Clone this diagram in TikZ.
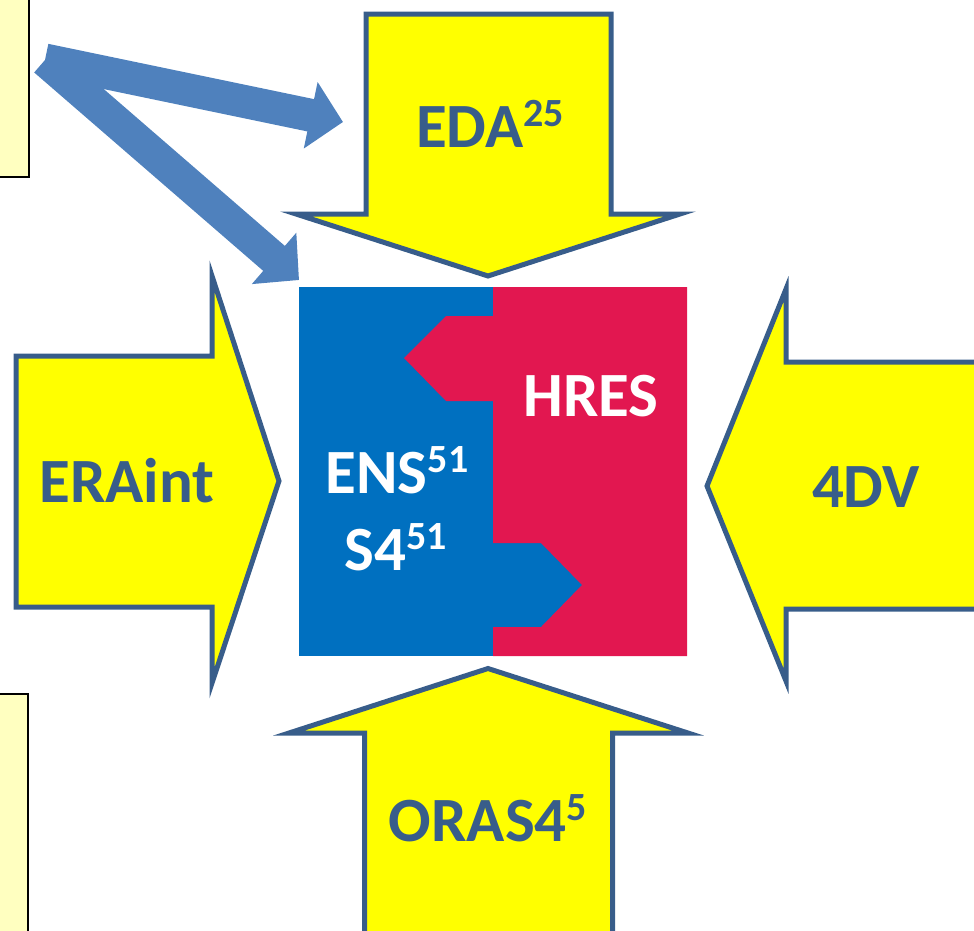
\documentclass[tikz,border=0pt]{standalone}
\usepackage{fontspec}
\setmainfont{Carlito}
\usetikzlibrary{arrows.meta, positioning, calc}
\definecolor{edgeblue}{RGB}{56,93,138}
\definecolor{ensblue}{RGB}{0,112,192}
\definecolor{hresred}{RGB}{226,23,80}
\definecolor{linkblue}{RGB}{79,129,189}
\definecolor{notefill}{RGB}{255,255,192}
\definecolor{arrowfill}{RGB}{255,255,0}
\newcommand{\sups}[1]{\raisebox{0.32em}{\fontsize{40}{40}\selectfont #1}}

\begin{document}
\begin{tikzpicture}[x=1pt, y=-1pt,
    bigarrow/.style={fill=arrowfill, draw=edgeblue, line width=5pt},
    notebox/.style={fill=notefill, draw=black, line width=2pt},
    link/.style={draw=linkblue, line width=33pt, -{Triangle[length=33pt, width=66pt]}},
    label/.style={text=edgeblue, font=\fontsize{63}{63}\selectfont\bfseries, inner sep=0pt, anchor=base},
    inlabel/.style={label, text=white}]
    \useasboundingbox (0,0) rectangle (974,930);
    \clip (0,0) rectangle (974,930);

    % Side notes (cut off at the left edge)
    \draw[notebox] (-10,-10) rectangle (29,177);
    \draw[notebox] (-10,694) rectangle (28,940);

    % Big yellow arrows pointing at the centre
    \draw[bigarrow] (366,14) -- (611,14) -- (611,214) -- (680,214) -- (488,276) -- (296,214) -- (366,214) -- cycle;
    \draw[bigarrow] (364.5,945) -- (364.5,733) -- (289,733) -- (488,668.5) -- (688,733) -- (612.5,733) -- (612.5,945) -- cycle;
    \draw[bigarrow] (16,356) -- (212,356) -- (212,276) -- (279,481) -- (212,683) -- (212,607) -- (16,607) -- cycle;
    \draw[bigarrow] (990,362) -- (786,362) -- (786,289) -- (707,486) -- (786,681) -- (786,609) -- (990,609) -- cycle;

    % Centre square: ENS/S4 and HRES halves
    \fill[ensblue] (299,287) rectangle (687,656);
    \fill[hresred] (493,287) -- (687,287) -- (687,656) -- (493,656) -- (493,627) -- (541,627) -- (582,585)
        -- (541,543) -- (493,543) -- (493,401) -- (446,401) -- (404,358) -- (446,316) -- (493,316) -- cycle;

    % Labels
    \node[label] (eda) at (490,147) {EDA\sups{25}};
    \node[label] (oras) at (488,841) {ORAS4\sups{5}};
    \node[label] (eraint) at (127,502) {ERAint};
    \node[label] (fourdv) at (866,507) {4DV};
    \node[inlabel] (hres) at (591,416) {HRES};
    \node[inlabel] (ens) at (397,493) {ENS\sups{51}};
    \node[inlabel] (sfour) at (396,570) {S4\sups{51}};

    % Links from the top note
    \coordinate (src) at (45,60);
    \coordinate (edain) at (343,122);
    \coordinate (sqin) at (299,280);
    \draw[link] (src) -- (edain);
    \draw[link] (src) -- (sqin);
\end{tikzpicture}
\end{document}
